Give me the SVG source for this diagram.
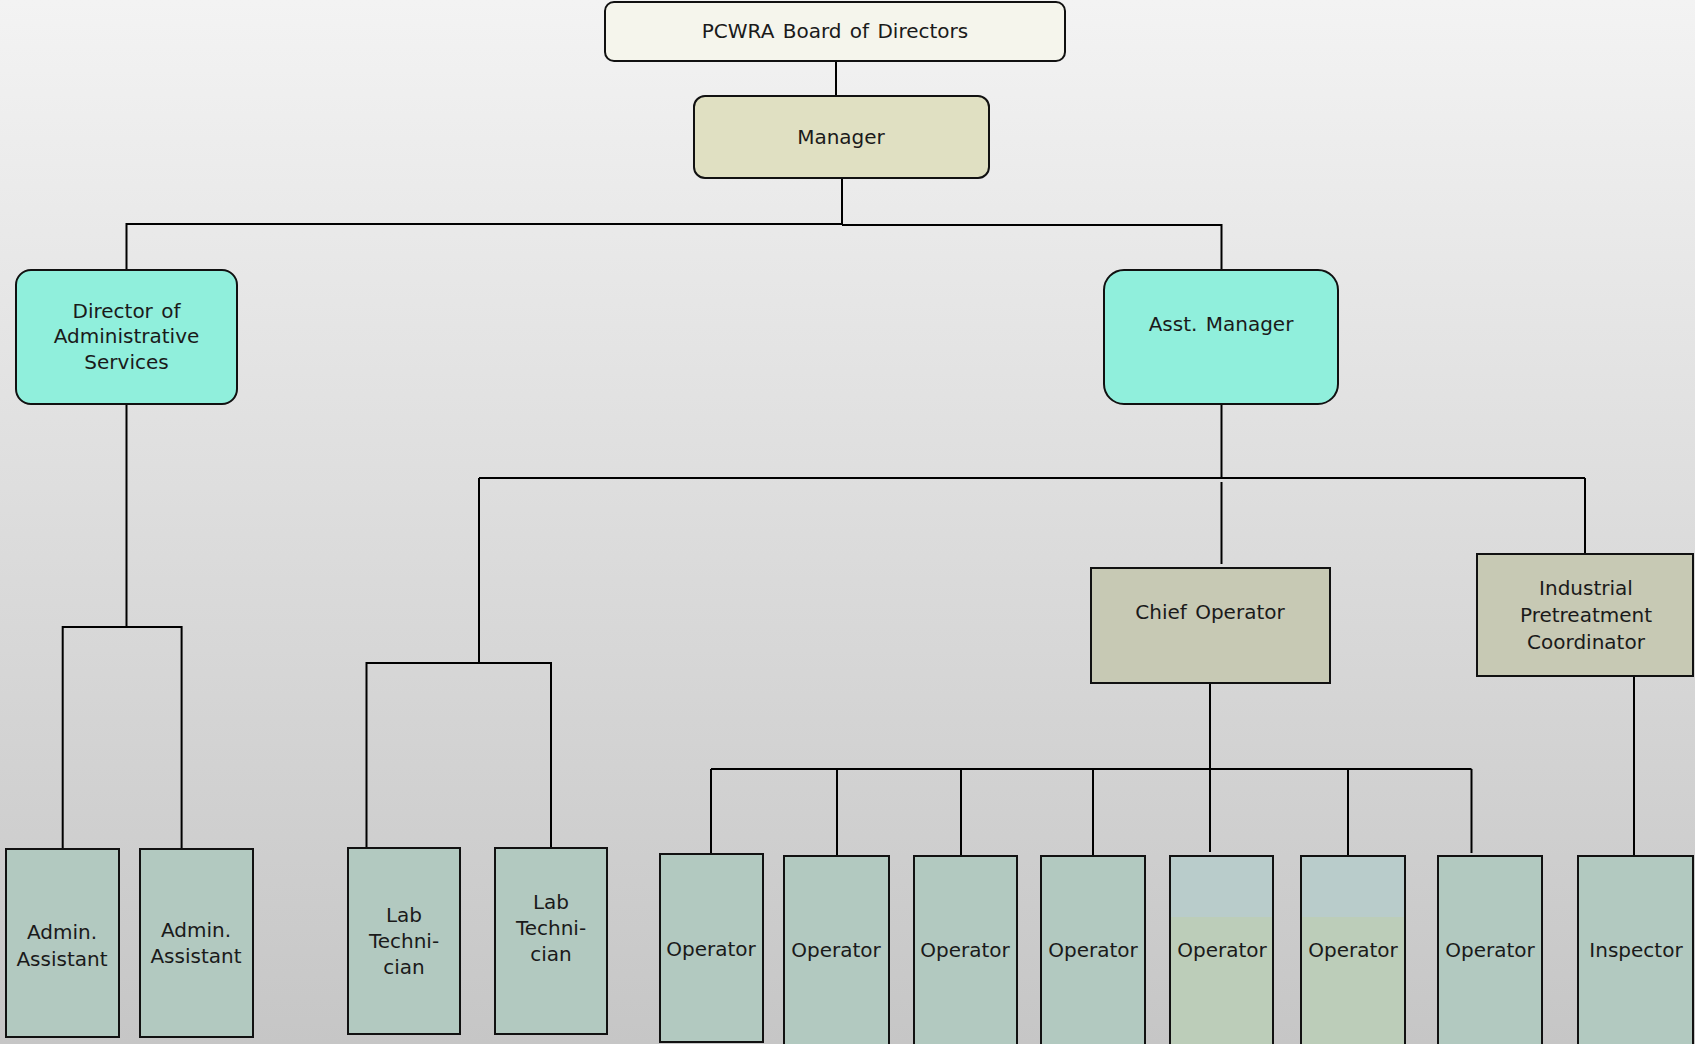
<svg xmlns="http://www.w3.org/2000/svg" width="1695" height="1044" viewBox="0 0 1695 1044">
<defs>
<linearGradient id="bg" x1="0" y1="0" x2="0" y2="1">
<stop offset="0" stop-color="#f3f3f3"/>
<stop offset="1" stop-color="#c6c6c6"/>
</linearGradient>
<linearGradient id="two" x1="0" y1="0" x2="0" y2="1">
<stop offset="0" stop-color="#b9cccb"/>
<stop offset="0.32" stop-color="#b9cccb"/>
<stop offset="0.32" stop-color="#bccdb9"/>
<stop offset="1" stop-color="#bccdb9"/>
</linearGradient>
</defs>
<style>
text{font-family:"DejaVu Sans","Noto Sans",sans-serif;font-size:20px;fill:#1a1a1a;text-anchor:middle;word-spacing:2px}
.box{stroke:#111;stroke-width:2}
.board{fill:#f5f5ec}
.mgr{fill:#e0e0c2}
.teal{fill:#90efdc}
.khaki{fill:#c7c9b4}
.staff{fill:#b2c9c0}
.two{fill:url(#two)}
.conn line,.conn polyline{stroke:#000;stroke-width:2;fill:none}
</style>
<rect x="0" y="0" width="1695" height="1044" fill="url(#bg)"/>
<g class="conn" id="connectors">
<line x1="836" y1="61" x2="836" y2="96"/>
<line x1="842" y1="178" x2="842" y2="225"/>
<polyline points="842,224 126.5,224 126.5,270"/>
<polyline points="842,225 1221.5,225 1221.5,270"/>
<polyline points="126.5,404 126.5,627"/>
<polyline points="62.7,849 62.7,627 181.6,627 181.6,849"/>
<line x1="1221.5" y1="404" x2="1221.5" y2="478"/>
<line x1="479" y1="478" x2="1585" y2="478"/>
<line x1="479" y1="478" x2="479" y2="663"/>
<polyline points="366.5,848 366.5,663 551,663 551,848"/>
<line x1="1221.5" y1="482" x2="1221.5" y2="564"/>
<line x1="1585" y1="478" x2="1585" y2="554"/>
<line x1="1210" y1="683" x2="1210" y2="852"/>
<line x1="711" y1="769" x2="1471.5" y2="769"/>
<line x1="711" y1="769" x2="711" y2="854"/>
<line x1="837" y1="769" x2="837" y2="858"/>
<line x1="961" y1="769" x2="961" y2="858"/>
<line x1="1093" y1="769" x2="1093" y2="858"/>
<line x1="1348" y1="769" x2="1348" y2="858"/>
<line x1="1471.5" y1="769" x2="1471.5" y2="853"/>
<line x1="1634" y1="676" x2="1634" y2="855"/>
</g>
<g id="board"><rect class="box board" x="605" y="2" width="460" height="59" rx="9"/><text x="835" y="38">PCWRA Board of Directors</text></g>
<g id="manager"><rect class="box mgr" x="694" y="96" width="295" height="82" rx="11"/><text x="841" y="144">Manager</text></g>
<g id="director"><rect class="box teal" x="16" y="270" width="221" height="134" rx="15"/><text x="126.5" y="318">Director of</text><text x="126.5" y="343">Administrative</text><text x="126.5" y="369">Services</text></g>
<g id="asst"><rect class="box teal" x="1104" y="270" width="234" height="134" rx="20"/><text x="1221" y="331">Asst. Manager</text></g>
<g id="chief"><rect class="box khaki" x="1091" y="568" width="239" height="115"/><text x="1210" y="619">Chief Operator</text></g>
<g id="ipc"><rect class="box khaki" x="1477" y="554" width="216" height="122"/><text x="1586" y="595">Industrial</text><text x="1586" y="622">Pretreatment</text><text x="1586" y="649">Coordinator</text></g>
<g id="admin1"><rect class="box staff" x="6" y="849" width="113" height="188"/><text x="62" y="939">Admin.</text><text x="62" y="966">Assistant</text></g>
<g id="admin2"><rect class="box staff" x="140" y="849" width="113" height="188"/><text x="196" y="937">Admin.</text><text x="196" y="963">Assistant</text></g>
<g id="lab1"><rect class="box staff" x="348" y="848" width="112" height="186"/><text x="404" y="922">Lab</text><text x="404" y="948">Techni-</text><text x="404" y="974">cian</text></g>
<g id="lab2"><rect class="box staff" x="495" y="848" width="112" height="186"/><text x="551" y="909">Lab</text><text x="551" y="935">Techni-</text><text x="551" y="961">cian</text></g>
<g id="op1"><rect class="box staff" x="660" y="854" width="103" height="188"/><text x="711" y="956">Operator</text></g>
<g id="op2"><rect class="box staff" x="784" y="856" width="105" height="190"/><text x="836" y="957">Operator</text></g>
<g id="op3"><rect class="box staff" x="914" y="856" width="103" height="190"/><text x="965" y="957">Operator</text></g>
<g id="op4"><rect class="box staff" x="1041" y="856" width="104" height="190"/><text x="1093" y="957">Operator</text></g>
<g id="op5"><rect class="box two" x="1170" y="856" width="103" height="190"/><text x="1222" y="957">Operator</text></g>
<g id="op6"><rect class="box two" x="1301" y="856" width="104" height="190"/><text x="1353" y="957">Operator</text></g>
<g id="op7"><rect class="box staff" x="1438" y="856" width="104" height="190"/><text x="1490" y="957">Operator</text></g>
<g id="inspector"><rect class="box staff" x="1578" y="856" width="115" height="190"/><text x="1636" y="957">Inspector</text></g>
</svg>
